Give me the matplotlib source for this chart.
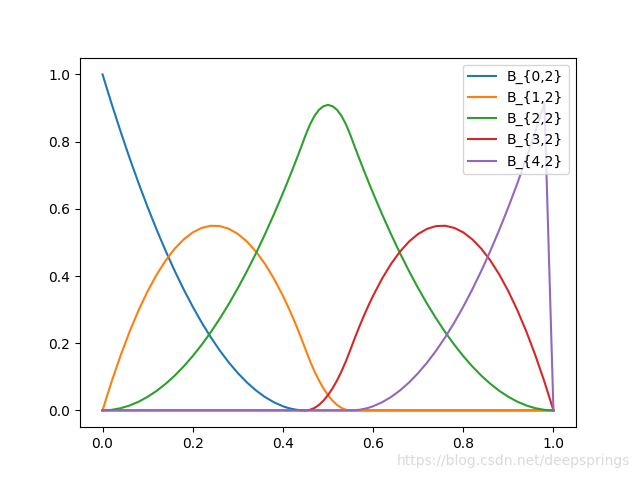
import matplotlib
matplotlib.use('Agg')
import matplotlib.pyplot as plt
import numpy as np

# sample positions: step 0.02, finer (0.01) around the middle knots
x = [i / 50 for i in range(21)] + [i / 100 for i in range(41, 60)] + [i / 50 for i in range(30, 51)]

# basis values
b0 = [1.0, 0.91309, 0.83012, 0.75111, 0.67605, 0.60494, 0.53778, 0.47457, 0.41531, 0.36,
      0.30864, 0.26123, 0.21778, 0.17827, 0.14272, 0.11111, 0.08346, 0.05975, 0.04, 0.02420,
      0.01235,
      0.00790, 0.00444, 0.00198, 0.00049] + [0.0] * 15 + [0.0] * 21
b1 = [0.0, 0.08530, 0.16341, 0.23434, 0.29809, 0.35466, 0.40404, 0.44624, 0.48126, 0.50909,
      0.52974, 0.54321, 0.54949, 0.54860, 0.54052, 0.52525, 0.50281, 0.47318, 0.43636, 0.39237,
      0.34119,
      0.31291, 0.28283, 0.25095, 0.21728, 0.18182, 0.14727, 0.11636, 0.08909, 0.06545, 0.04545,
      0.02909, 0.01636, 0.00727, 0.00182] + [0.0] * 5 + [0.0] * 21
b2 = [0.0, 0.00162, 0.00646, 0.01455, 0.02586, 0.04040, 0.05818, 0.07919, 0.10343, 0.13091,
      0.16162, 0.19556, 0.23273, 0.27313, 0.31677, 0.36364, 0.41374, 0.46707, 0.52364, 0.58343,
      0.64646,
      0.67919, 0.71273, 0.74707, 0.78222, 0.81818, 0.85091, 0.87636, 0.89455, 0.90545, 0.90909,
      0.90545, 0.89455, 0.87636, 0.85091, 0.81818, 0.78222, 0.74707, 0.71273, 0.67919,
      0.64646, 0.58343, 0.52364, 0.46707, 0.41374, 0.36364, 0.31677, 0.27313, 0.23273, 0.19556,
      0.16162, 0.13091, 0.10343, 0.07919, 0.05818, 0.04040, 0.02586, 0.01455, 0.00646, 0.00162, 0.0]
b3 = [0.0] * 21 + [0.0] * 5 + [
      0.00182, 0.00727, 0.01636, 0.02909, 0.04545, 0.06545, 0.08909, 0.11636, 0.14727, 0.18182,
      0.21728, 0.25095, 0.28283, 0.31291,
      0.34119, 0.39237, 0.43636, 0.47318, 0.50281, 0.52525, 0.54052, 0.54860, 0.54949, 0.54321,
      0.52974, 0.50909, 0.48126, 0.44624, 0.40404, 0.35466, 0.29809, 0.23434, 0.16341, 0.08530, 0.0]
b4 = [0.0] * 21 + [0.0] * 15 + [0.00049, 0.00198, 0.00444, 0.00790,
      0.01235, 0.02420, 0.04, 0.05975, 0.08346, 0.11111, 0.14272, 0.17827, 0.21778, 0.26123,
      0.30864, 0.36, 0.41531, 0.47457, 0.53778, 0.60494, 0.67605, 0.75111, 0.83012, 0.91309, 0.0]

series = [b0, b1, b2, b3, b4]
labels = ['B_{0,2}', 'B_{1,2}', 'B_{2,2}', 'B_{3,2}', 'B_{4,2}']

fig, ax = plt.subplots(figsize=(6.4, 4.8), dpi=100)
for y, lab in zip(series, labels):
  ax.plot(x, y, label=lab)
ax.legend(loc='upper right')

fig.text(0.985, 0.025, 'https://blog.csdn.net/deepsprings', ha='right', va='bottom',
         fontsize=10, color='#dadada')

fig.savefig('out.png', dpi=100)
